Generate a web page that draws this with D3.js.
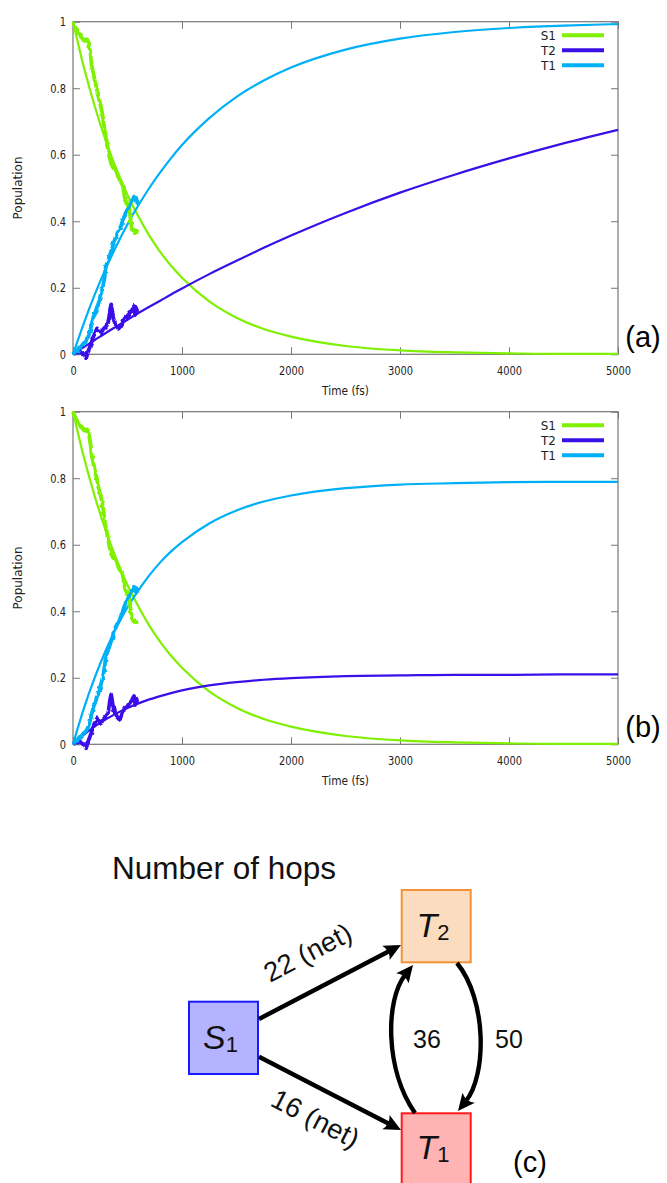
<!DOCTYPE html>
<html><head><meta charset="utf-8">
<script src="https://cdn.jsdelivr.net/npm/d3@7"></script>
<style>body{margin:0;background:#fff} svg{display:block}</style>
</head><body>
<svg id="c" width="667" height="1183"></svg>
<script>
// ---------- data ----------
const seriesNames = ["S1", "T2", "T1"];
const seriesColors = ["#7ff000", "#3a10e8", "#00b0f6"];
const xTicks = [0, 1000, 2000, 3000, 4000, 5000];
const xTickLabels = ["0", "1000", "2000", "3000", "4000", "5000"];
const yTicks = [0, 0.2, 0.4, 0.6, 0.8, 1];
const yTickLabels = ["0", "0.2", "0.4", "0.6", "0.8", "1"];

// fitted kinetics (fs)
const fitTimes = [0,100,200,300,400,500,600,700,800,900,1000,1250,1500,1750,2000,2500,3000,3500,4000,4500,5000];
const s1FitA = [1,0.863,0.745,0.643,0.555,0.479,0.414,0.357,0.308,0.266,0.230,0.159,0.110,0.076,0.053,0.025,0.012,0.006,0.003,0.001,0.001];
const t2FitA = [0,0.022,0.043,0.064,0.084,0.104,0.124,0.143,0.161,0.180,0.198,0.241,0.281,0.320,0.357,0.425,0.486,0.540,0.589,0.634,0.675];
const t1FitA = [0,0.094,0.180,0.257,0.327,0.391,0.448,0.500,0.547,0.590,0.629,0.710,0.774,0.823,0.862,0.916,0.949,0.969,0.981,0.988,0.993];
const s1FitB = [1,0.863,0.745,0.643,0.555,0.479,0.414,0.357,0.308,0.266,0.230,0.159,0.110,0.076,0.053,0.025,0.012,0.006,0.003,0.001,0.001];
const t2FitB = [0,0.029,0.054,0.075,0.093,0.109,0.123,0.135,0.145,0.154,0.162,0.177,0.187,0.194,0.199,0.205,0.207,0.209,0.209,0.210,0.210];
const t1FitB = [0,0.108,0.201,0.282,0.352,0.412,0.463,0.508,0.547,0.580,0.608,0.664,0.703,0.730,0.748,0.770,0.781,0.785,0.788,0.789,0.789];

// simulated (trajectory-averaged) populations
const mdTimes = [0,10,20,30,40,50,60,70,80,90,100,110,120,130,140,150,160,170,180,190,200,210,220,230,240,250,260,270,280,290,300,310,320,330,340,350,360,370,380,390,400,410,420,430,440,450,460,470,480,490,500,510,520,530,540,550,560,570,580,590,600];
const s1MD = [1.000,0.992,0.985,0.978,0.972,0.968,0.962,0.958,0.952,0.948,0.944,0.946,0.942,0.947,0.938,0.925,0.905,0.872,0.855,0.840,0.822,0.810,0.795,0.778,0.765,0.752,0.738,0.722,0.700,0.675,0.655,0.640,0.618,0.600,0.588,0.572,0.566,0.560,0.562,0.555,0.548,0.538,0.530,0.524,0.518,0.512,0.502,0.480,0.465,0.458,0.452,0.446,0.430,0.400,0.376,0.372,0.368,0.372,0.367,0.370,0.368];
const t2MD = [0,0.002,0.004,0.006,0.005,0.008,0.010,0.006,0.004,0.000,0.004,-0.004,-0.012,-0.002,0.010,0.018,0.028,0.035,0.048,0.055,0.062,0.070,0.078,0.072,0.070,0.066,0.064,0.072,0.076,0.080,0.082,0.088,0.092,0.110,0.135,0.150,0.130,0.108,0.098,0.090,0.086,0.080,0.076,0.078,0.082,0.092,0.098,0.106,0.110,0.112,0.115,0.120,0.124,0.128,0.132,0.140,0.145,0.118,0.138,0.132,0.134];
const t1MD = [0,0.004,0.008,0.012,0.010,0.018,0.022,0.020,0.026,0.030,0.034,0.036,0.040,0.046,0.052,0.062,0.075,0.090,0.102,0.115,0.122,0.132,0.142,0.150,0.160,0.175,0.185,0.198,0.212,0.232,0.262,0.272,0.280,0.290,0.300,0.310,0.318,0.332,0.342,0.352,0.358,0.366,0.372,0.378,0.386,0.396,0.404,0.414,0.422,0.432,0.436,0.442,0.450,0.458,0.462,0.466,0.474,0.460,0.470,0.455,0.452];

// hop diagram
const stateNames = ["S", "T", "T"];
const stateSubs = ["1", "2", "1"];
const hopLabels = ["22 (net)", "16 (net)", "36", "50"];

// ---------- drawing ----------
const svg = d3.select("#c");
const axisColor = "#777";
const X0 = 73, X1 = 618;
const x = d3.scaleLinear().domain([0, 5000]).range([X0, X1]);
const panels = [
  {top: 21.7, bottom: 354.3, fits: [s1FitA, t2FitA, t1FitA], tag: "(a)", tagY: 347},
  {top: 411.7, bottom: 744.3, fits: [s1FitB, t2FitB, t1FitB], tag: "(b)", tagY: 737}
];
const md = [s1MD, t2MD, t1MD];
const fontAx = "DejaVu Sans";

const defs = svg.append("defs");
// mild jitter filter for the noisy simulated traces
const flt = defs.append("filter").attr("id", "jit").attr("x", "-20%").attr("y", "-20%").attr("width", "140%").attr("height", "140%");
flt.append("feTurbulence").attr("type", "fractalNoise").attr("baseFrequency", 0.22).attr("numOctaves", 1).attr("seed", 5).attr("result", "n");
flt.append("feDisplacementMap").attr("in", "SourceGraphic").attr("in2", "n").attr("scale", 3.5).attr("xChannelSelector", "R").attr("yChannelSelector", "G");

panels.forEach(p => {
  const y = d3.scaleLinear().domain([0, 1]).range([p.bottom, p.top]);
  const g = svg.append("g");

  const styleAxis = sel => {
    sel.select(".domain").remove();
    sel.selectAll("line").attr("stroke", axisColor);
    sel.selectAll("text").attr("font-family", fontAx).attr("font-size", 12).attr("fill", "#222");
  };
  g.append("g").attr("transform", `translate(0,${p.bottom})`)
    .call(d3.axisBottom(x).tickValues(xTicks).tickFormat((d, i) => xTickLabels[i]).tickSize(-7).tickSizeOuter(0).tickPadding(12))
    .call(styleAxis)
    .selectAll("text").attr("transform", "scale(0.82,1)");
  g.append("g").attr("transform", `translate(0,${p.top})`)
    .call(d3.axisTop(x).tickValues(xTicks).tickFormat("").tickSize(-7).tickSizeOuter(0))
    .call(styleAxis);
  const ly = g.append("g").attr("transform", `translate(${X0},0)`)
    .call(d3.axisLeft(y).tickValues(yTicks).tickFormat((d, i) => yTickLabels[i]).tickSize(-7).tickSizeOuter(0).tickPadding(7))
    .call(styleAxis);
  ly.selectAll("text").attr("x", -7 / 0.82).attr("transform", "scale(0.82,1)");
  g.append("g").attr("transform", `translate(${X1},0)`)
    .call(d3.axisRight(y).tickValues(yTicks).tickFormat("").tickSize(-7).tickSizeOuter(0))
    .call(styleAxis);

  g.append("rect").attr("x", X0).attr("y", p.top).attr("width", X1 - X0).attr("height", p.bottom - p.top)
    .attr("fill", "none").attr("stroke", axisColor).attr("stroke-width", 1.2);

  // axis titles
  g.append("text").attr("transform", `translate(${(X0 + X1) / 2},${p.bottom + 41}) scale(0.85,1)`)
    .attr("text-anchor", "middle").attr("font-family", fontAx).attr("font-size", 12.5).attr("fill", "#222").text("Time (fs)");
  g.append("text").attr("transform", `translate(22,${(p.top + p.bottom) / 2}) rotate(-90)`)
    .attr("text-anchor", "middle").attr("font-family", fontAx).attr("font-size", 12).attr("fill", "#222").text("Population");

  // fitted curves
  const fitLine = d3.line().x((d, i) => x(fitTimes[i])).y(d => y(d)).curve(d3.curveMonotoneX);
  p.fits.forEach((arr, k) => {
    g.append("path").attr("d", fitLine(arr)).attr("fill", "none")
      .attr("stroke", seriesColors[k]).attr("stroke-width", 2.2);
  });
  // simulated curves
  const mdLine = d3.line().x((d, i) => x(mdTimes[i])).y(d => y(d));
  md.forEach((arr, k) => {
    g.append("path").attr("d", mdLine(arr)).attr("fill", "none")
      .attr("stroke", seriesColors[k]).attr("stroke-width", 3.8).attr("stroke-linejoin", "round")
      .attr("filter", "url(#jit)");
  });

  // legend
  seriesNames.forEach((n, k) => {
    const ly0 = p.top + 13.5 + k * 15;
    g.append("text").attr("x", 556).attr("y", ly0 + 4.3).attr("text-anchor", "end")
      .attr("font-family", fontAx).attr("font-size", 12).attr("fill", "#222").text(n);
    g.append("line").attr("x1", 562).attr("x2", 604).attr("y1", ly0).attr("y2", ly0)
      .attr("stroke", seriesColors[k]).attr("stroke-width", 4);
  });

  // panel tag
  g.append("text").attr("x", 643).attr("y", p.tagY).attr("text-anchor", "middle")
    .attr("font-family", "Liberation Sans").attr("font-size", 29).attr("fill", "#000").text(p.tag);
});

// ---------- hop diagram ----------
const dg = svg.append("g");
dg.append("text").attr("x", 112).attr("y", 879).attr("font-family", "Liberation Sans").attr("font-size", 31.5)
  .attr("fill", "#111").text("Number of hops");

const boxes = [
  {x: 189, y: 1001.7, w: 69, h: 72.3, fill: "#b3b3ff", stroke: "#1a1aff", cx: 223.5, by: 1048.5},
  {x: 401.7, y: 890, w: 69, h: 72.3, fill: "#fcdcbf", stroke: "#f39237", cx: 436, by: 937},
  {x: 401.7, y: 1113.3, w: 69, h: 80, fill: "#ffb3b3", stroke: "#ff1a1a", cx: 436, by: 1158.5}
];
boxes.forEach((b, i) => {
  dg.append("rect").attr("x", b.x).attr("y", b.y).attr("width", b.w).attr("height", b.h)
    .attr("fill", b.fill).attr("stroke", b.stroke).attr("stroke-width", 2);
  const t = dg.append("text").attr("x", b.cx - 3).attr("y", b.by).attr("text-anchor", "middle")
    .attr("font-family", "Liberation Sans").attr("fill", "#111");
  t.append("tspan").attr("font-size", 34).attr("font-style", "italic").text(stateNames[i]);
  t.append("tspan").attr("font-size", 22).attr("dy", 3).text(stateSubs[i]);
});

// arrow head marker (tip extends beyond path end)
defs.append("marker").attr("id", "ah").attr("markerUnits", "userSpaceOnUse")
  .attr("viewBox", "-10 -10 26 20").attr("markerWidth", 26).attr("markerHeight", 20)
  .attr("refX", 0).attr("refY", 0).attr("orient", "auto")
  .append("path").attr("d", "M12,0 L-5,-8 Q0,0 -5,8 Z").attr("fill", "#000");

const shorten = (from, tip, L) => {
  const dx = tip[0] - from[0], dy = tip[1] - from[1], d = Math.hypot(dx, dy);
  return [tip[0] - L * dx / d, tip[1] - L * dy / d];
};
const arrowStyle = sel => sel.attr("fill", "none").attr("stroke", "#000").attr("stroke-width", 4.4).attr("marker-end", "url(#ah)");

// straight arrows
[[[259, 1019], [401, 945]], [[259, 1056.7], [401, 1130]]].forEach(([a, b]) => {
  const e = shorten(a, b, 12);
  dg.append("path").attr("d", `M${a[0]},${a[1]} L${e[0]},${e[1]}`).call(arrowStyle);
});
// curved arrows
[
  {p0: [415, 1113], p1: [385, 1070], p2: [385, 1000], tip: [413, 965]},
  {p0: [457, 963], p1: [487, 1000], p2: [487, 1075], tip: [458, 1111]}
].forEach(c => {
  const e = shorten(c.p2, c.tip, 12);
  dg.append("path").attr("d", `M${c.p0} C${c.p1} ${c.p2} ${e}`).call(arrowStyle);
});

// hop labels
const lab = (txt, xx, yy, rot, fs) => dg.append("text").attr("transform", `translate(${xx},${yy}) rotate(${rot})`)
  .attr("text-anchor", "middle").attr("font-family", "Liberation Sans").attr("font-size", fs).attr("fill", "#111").text(txt);
lab(hopLabels[0], 312, 961, -27.5, 27.5);
lab(hopLabels[1], 311, 1127, 27.5, 27.5);
lab(hopLabels[2], 427, 1048, 0, 25);
lab(hopLabels[3], 509, 1048, 0, 25);

dg.append("text").attr("x", 530).attr("y", 1172).attr("text-anchor", "middle")
  .attr("font-family", "Liberation Sans").attr("font-size", 29).attr("fill", "#000").text("(c)");
</script>
</body></html>
